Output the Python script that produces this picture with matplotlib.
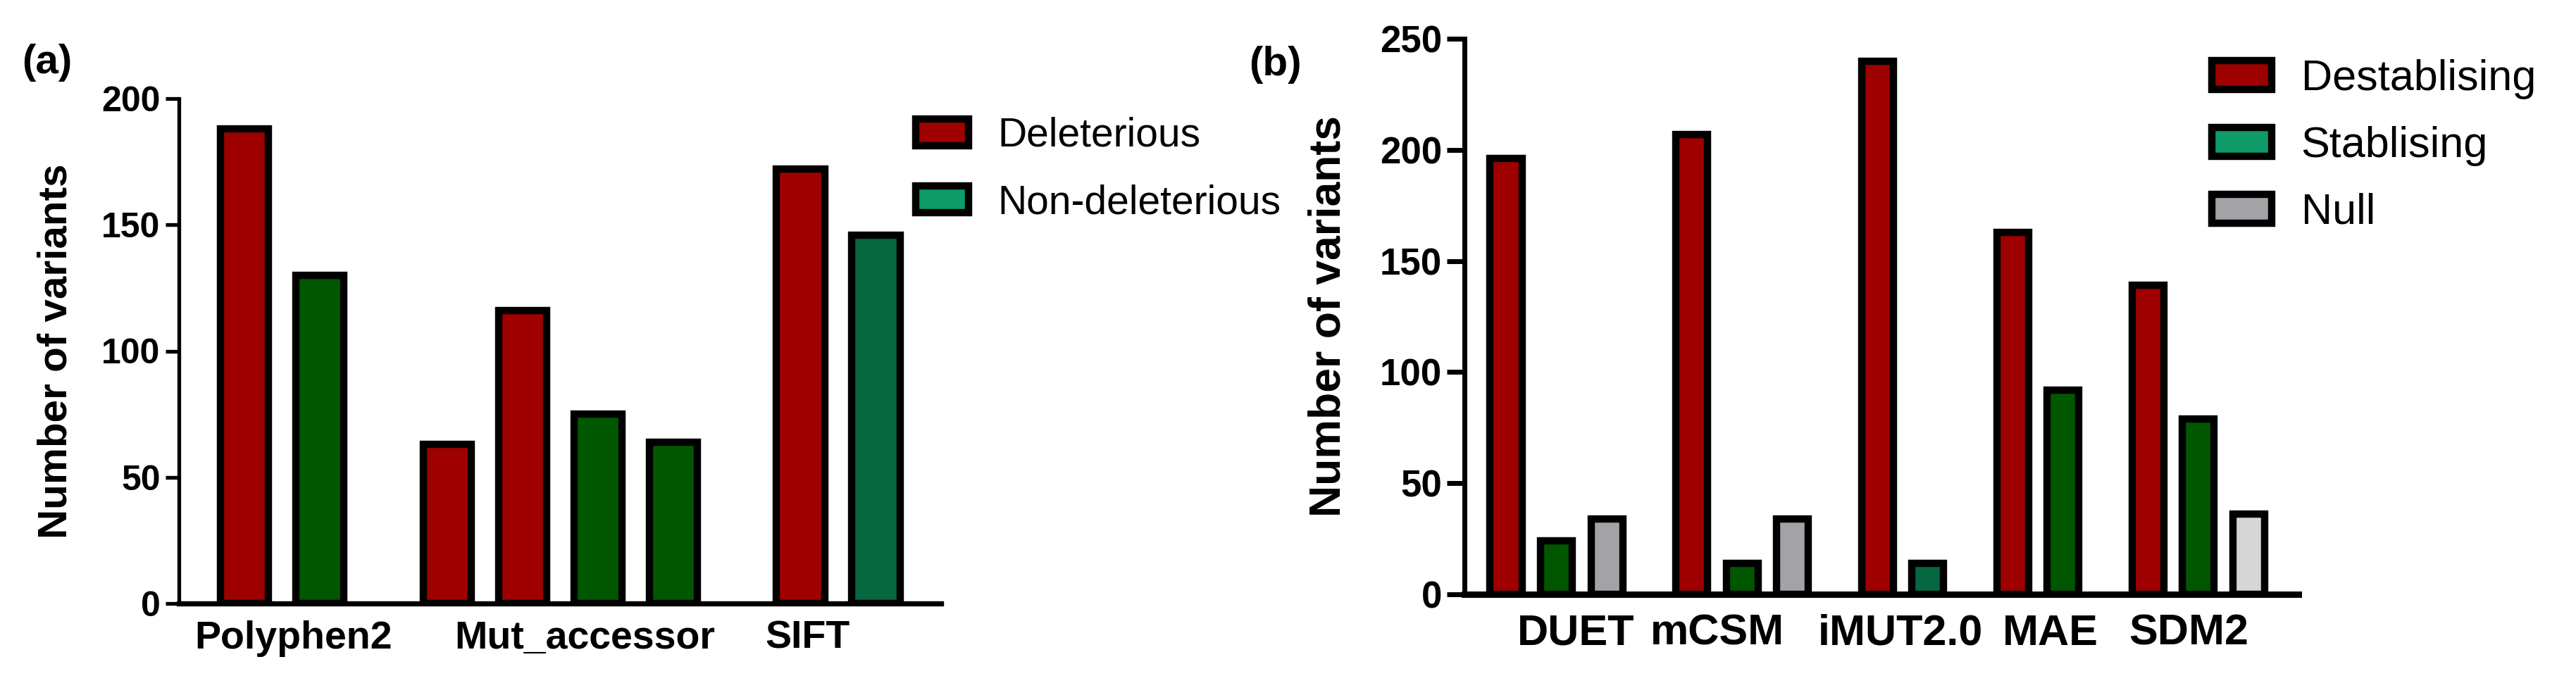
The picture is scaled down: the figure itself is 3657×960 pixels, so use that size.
import matplotlib
matplotlib.use("Agg")
import matplotlib.pyplot as plt
from matplotlib.patches import Patch

plt.rcParams['font.family'] = ['Liberation Sans', 'DejaVu Sans']

# ---- data: panel (a) pathogenicity predictors
tools_a = ['Polyphen2', 'Mut_accessor', 'SIFT']
values_a = [[188, 130], [63, 116, 75, 64], [172, 146]]
classes_a = [['del', 'non'], ['del', 'del', 'non', 'non'], ['del', 'non2']]
legend_a = ['Deleterious', 'Non-deleterious']

# ---- data: panel (b) stability predictors
tools_b = ['DUET', 'mCSM', 'iMUT2.0', 'MAE', 'SDM2']
destab = [196, 207, 240, 163, 139]
stab = [24, 14, 14, 92, 79]
null = [34, 34, None, None, 36]
stab_cls = ['stab', 'stab', 'stab2', 'stab', 'stab']
null_cls = ['null', 'null', None, None, 'null2']
legend_b = ['Destablising', 'Stablising', 'Null']

colors = {
    'del': '#9e0000', 'non': '#005700', 'non2': '#076740',
    'stab': '#005700', 'stab2': '#076740',
    'null': '#a3a3a7', 'null2': '#d6d6d6',
}
leg_colors_a = ['#9e0000', '#0e9b68']
leg_colors_b = ['#9e0000', '#0e9b68', '#a3a3a7']

EDGE = 7.5
W, H = 3657, 960
fig = plt.figure(figsize=(W / 100, H / 100), dpi=100)


def px_axes(l, r, top, bot):
    return fig.add_axes([l / W, 1 - bot / H, (r - l) / W, (bot - top) / H])


def group_positions(sizes, gap):
    pos, x = [], 0.0
    for n in sizes:
        grp = [x + i for i in range(n)]
        pos.append(grp)
        x = grp[-1] + gap
    return pos


def style(ax, spine_lw, ylen, ysize):
    for s in ['top', 'right']:
        ax.spines[s].set_visible(False)
    ax.spines['left'].set_linewidth(spine_lw)
    ax.spines['bottom'].set_linewidth(spine_lw + 1.5)
    ax.tick_params(axis='y', length=ylen, width=spine_lw, labelsize=ysize, pad=5)
    for t in ax.get_yticklabels():
        t.set_fontweight('bold')
    ax.tick_params(axis='x', length=0)


# ---------------- panel (a)
ax1 = px_axes(254, 1336, 140, 857)
pos_a = group_positions([len(v) for v in values_a], 1.69)
for p, v, c in zip(pos_a, values_a, classes_a):
    ax1.bar(p, v, width=0.64, color=[colors[k] for k in c],
            edgecolor='black', linewidth=EDGE)
shift_a = [0.15, 0.33, -0.41]
ax1.set_xticks([sum(p) / len(p) + s for p, s in zip(pos_a, shift_a)])
ax1.set_xticklabels(tools_a, fontsize=40, fontweight='bold')
ax1.tick_params(axis='x', pad=17)
ax1.set_xlim(-0.869, 9.243)
ax1.set_ylim(0, 200)
ax1.set_yticks([0, 50, 100, 150, 200])
style(ax1, 3.8, 14, 36)
ax1.set_ylabel('Number of variants', fontsize=42, fontweight='bold')
ax1.yaxis.set_label_coords(-0.136, 0.5)
ax1.legend(handles=[Patch(facecolor=c, edgecolor='black', linewidth=EDGE, label=l)
                    for c, l in zip(leg_colors_a, legend_a)],
           loc='upper left', bbox_to_anchor=(1300 / W, 1 - 166 / H),
           bbox_transform=fig.transFigure, frameon=False, fontsize=41,
           borderpad=0, borderaxespad=0, handlelength=1.32, handleheight=0.66,
           handletextpad=0.72, labelspacing=0.72)

# ---------------- panel (b)
ax2 = px_axes(2079, 3263, 55, 844)
sizes_b = [sum(x is not None for x in (d, s, n)) for d, s, n in zip(destab, stab, null)]
pos_b = group_positions(sizes_b, 1.685)
for p, d, s, n, sc, nc in zip(pos_b, destab, stab, null, stab_cls, null_cls):
    vals = [d, s] + ([n] if n is not None else [])
    cols = [colors['del'], colors[sc]] + ([colors[nc]] if n is not None else [])
    ax2.bar(p, vals, width=0.63, color=cols, edgecolor='black', linewidth=EDGE)
shift_b = [0.385, -0.49, -0.04, 0.245, -0.19]
ax2.set_xticks([sum(p) / len(p) + s for p, s in zip(pos_b, shift_b)])
ax2.set_xticklabels(tools_b, fontsize=44, fontweight='bold')
ax2.tick_params(axis='x', pad=20)
ax2.set_xlim(-0.825, 15.73)
ax2.set_ylim(0, 250)
ax2.set_yticks([0, 50, 100, 150, 200, 250])
style(ax2, 5, 18, 38)
ax2.set_ylabel('Number of variants', fontsize=45, fontweight='bold')
ax2.yaxis.set_label_coords(-0.138, 0.5)
ax2.legend(handles=[Patch(facecolor=c, edgecolor='black', linewidth=EDGE, label=l)
                    for c, l in zip(leg_colors_b, legend_b)],
           loc='upper left', bbox_to_anchor=(3140 / W, 1 - 84 / H),
           bbox_transform=fig.transFigure, frameon=False, fontsize=44,
           borderpad=0, borderaxespad=0, handlelength=1.39, handleheight=0.67,
           handletextpad=0.68, labelspacing=0.62)

fig.text(31 / W, 1 - 62 / H, '(a)', fontsize=42, fontweight='bold', va='top')
fig.text(1773 / W, 1 - 65 / H, '(b)', fontsize=42, fontweight='bold', va='top')

fig.savefig('out.png', dpi=100)
